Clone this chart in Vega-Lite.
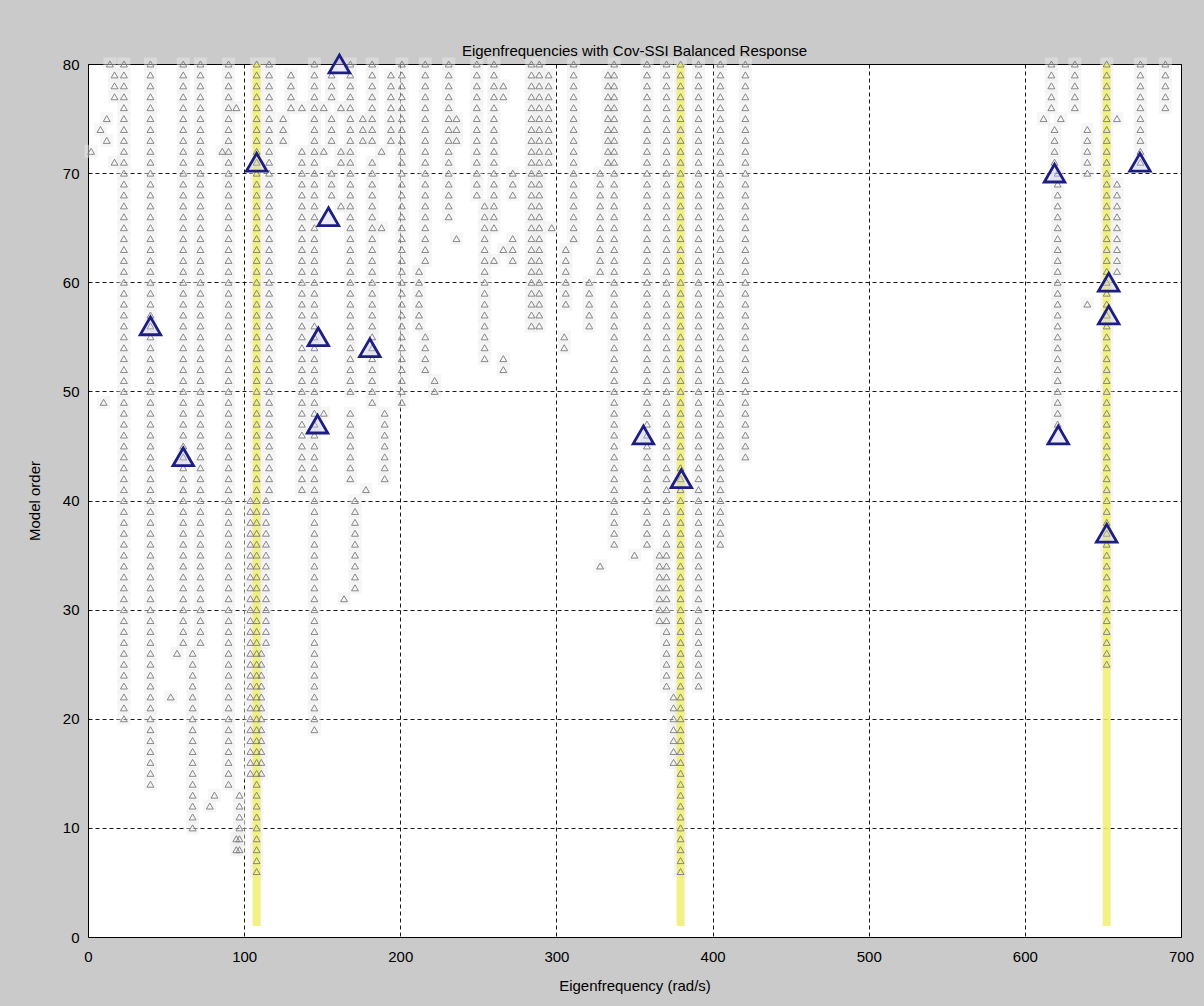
{
  "$schema": "https://vega.github.io/schema/vega-lite/v6.json",
  "autosize": "none",
  "width": 1093,
  "height": 873,
  "padding": {"left": 88, "top": 64, "right": 23, "bottom": 69},
  "background": "#cacaca",
  "view": {"fill": "white", "stroke": "black", "strokeWidth": 1},
  "title": {"text": "Eigenfrequencies with Cov-SSI Balanced Response", "font": "Liberation Sans", "fontSize": 15, "fontWeight": "normal", "color": "black", "offset": -11},
  "config": {
    "axis": {
      "labelFont": "Liberation Sans", "labelFontSize": 15, "labelColor": "black",
      "titleFont": "Liberation Sans", "titleFontSize": 15, "titleFontWeight": "normal", "titleColor": "black",
      "domain": false, "ticks": false, "labelFlush": false, "labelOverlap": false,
      "grid": true, "gridColor": "black", "gridDash": [4, 3], "gridWidth": 1, "gridOpacity": 0.9
    },
    "axisX": {"labelPadding": 12, "titlePadding": 14},
    "axisY": {"labelPadding": 9, "titlePadding": 20}
  },
  "datasets": {
    "gray": [
      {"f": 2, "o": [72]},
      {"f": 8, "o": [74]},
      {"f": 10, "o": [49]},
      {"f": 12, "o": [73, 75]},
      {"f": 14, "o": [80]},
      {"f": 17, "o": [71, 77, 78, 79]},
      {"f": 23, "o": [20,21,22,23,24,25,26,27,28,29,30,31,32,33,34,35,36,37,38,39,40,41,42,43,44,45,46,47,48,49,50,51,52,53,54,55,56,57,58,59,60,61,62,63,64,65,66,67,68,69,70,71,72,73,74,75,76,77,78,79,80]},
      {"f": 40, "o": [14,15,16,17,18,19,20,21,22,23,24,25,26,27,28,29,30,31,32,33,34,35,36,37,38,39,40,41,42,43,44,45,46,47,48,49,50,51,52,53,54,55,56,57,58,59,60,61,62,63,64,65,66,67,68,69,70,71,72,73,74,75,76,77,78,79,80]},
      {"f": 53, "o": [22]},
      {"f": 57, "o": [26]},
      {"f": 61, "o": [27,28,29,30,31,32,33,34,35,36,37,38,39,40,41,42,43,44,45,46,47,48,49,50,51,52,53,54,55,56,57,58,59,60,61,62,63,64,65,66,67,68,69,70,71,72,73,74,75,76,77,78,79,80]},
      {"f": 72, "o": [27,28,29,30,31,32,33,34,35,36,37,38,39,40,41,42,43,44,45,46,47,48,49,50,51,52,53,54,55,56,57,58,59,60,61,62,63,64,65,66,67,68,69,70,71,72,73,74,75,76,77,78,79,80]},
      {"f": 67, "o": [10,11,12,13,14,15,16,17,18,19,20,21,22,23,24,25,26]},
      {"f": 78, "o": [12]},
      {"f": 81, "o": [13]},
      {"f": 86, "o": [72]},
      {"f": 90, "o": [14,15,16,17,18,19,20,21,22,23,24,25,26,27,28,29,30,31,32,33,34,35,36,37,38,39,40,41,42,43,44,45,46,47,48,49,50,51,52,53,54,55,56,57,58,59,60,61,62,63,64,65,66,67,68,69,70,71,72,73,74,75,76,77,78,79,80]},
      {"f": 95, "o": [8, 9, 76]},
      {"f": 97, "o": [8,9,10,11,12,13]},
      {"f": 104, "o": [15,16,17,18,19,20,21,22,23,24,25,26,27,28,29,30,31,32,33,34,35,36,37,38,39,40]},
      {"f": 108, "o": [6,7,8,9,10,11,12,13,14,15,16,17,18,19,20,21,22,23,24,25,26,27,28,29,30,31,32,33,34,35,36,37,38,39,40,41,42,43,44,45,46,47,48,49,50,51,52,53,54,55,56,57,58,59,60,61,62,63,64,65,66,67,68,69,70,71,72,73,74,75,76,77,78,79,80]},
      {"f": 111, "o": [15,16,17,18,19,20,21,22,23,24,25,26]},
      {"f": 114, "o": [27,28,29,30,31,32,33,34,35,36,37,38,39,40]},
      {"f": 116, "o": [41,42,43,44,45,46,47,48,49,50,51,52,53,54,55,56,57,58,59,60,61,62,63,64,65,66,67,68,69,70,71,72,73,74,75,76,77,78,79,80]},
      {"f": 125, "o": [73, 74, 75]},
      {"f": 130, "o": [76, 77, 78, 79]},
      {"f": 137, "o": [41,42,43,44,45,46,47,48,49,50,51,52,53,54,55,56,57,58,59,60,61,62,63,64,65,66,67,68,69,70,71,72,76]},
      {"f": 145, "o": [19,20,21,22,23,24,25,26,27,28,29,30,31,32,33,34,35,36,37,38,39,40,41,42,43,44,45,46,47,48,49,50,51,52,53,54,55,56,57,58,59,60,61,62,63,64,65,66,67,68,69,70,71,72,73,74,75,76,77,78,79,80]},
      {"f": 151, "o": [48, 72, 76]},
      {"f": 156, "o": [68, 69, 70, 73, 74, 75, 77, 78, 79]},
      {"f": 162, "o": [67, 71, 72, 76]},
      {"f": 168, "o": [42,43,44,45,46,47,48,50,51,52,53,54,55,56,57,58,59,60,61,62,63,64,65,66,67,68,69,70,71,72,73,74,75,76,77,78,79,80]},
      {"f": 164, "o": [31]},
      {"f": 171, "o": [32,33,34,35,36,37,38,39,40]},
      {"f": 178, "o": [41]},
      {"f": 176, "o": [73, 74, 75]},
      {"f": 182, "o": [49,50,51,52,53,54,55,56,57,58,59,60,61,62,63,64,65,66,67,68,69,70,71,73,74,75,76,77,78,79,80]},
      {"f": 188, "o": [65, 72]},
      {"f": 190, "o": [42,43,44,45,46,47,48]},
      {"f": 194, "o": [73,74,75,76,77,78,79]},
      {"f": 201, "o": [49,50,51,52,53,54,55,56,57,58,59,60,61,62,63,64,65,66,67,68,69,70,71,72,73,74,75,76,77,78,79,80]},
      {"f": 212, "o": [56,57,58,59,60,61]},
      {"f": 216, "o": [52,53,54,55,62,63,64,65,66,67,68,69,70,71,72,73,74,75,76,77,78,79,80]},
      {"f": 222, "o": [50, 51]},
      {"f": 231, "o": [66,67,68,69,70,71,72,73,74,75,76,77,78,79,80]},
      {"f": 236, "o": [64, 73, 74, 75]},
      {"f": 249, "o": [68,69,70,71,72,73,74,75,76,77,78,79,80]},
      {"f": 254, "o": [53,54,55,56,57,58,59,60,61,62,63,64,65,66,67]},
      {"f": 260, "o": [62,65,66,67,68,69,70,71,72,73,74,75,76,77,78,79,80]},
      {"f": 266, "o": [52, 53, 63, 77, 78]},
      {"f": 272, "o": [62, 63, 64, 68, 69, 70]},
      {"f": 284, "o": [56,57,58,59,60,61,62,63,64,65,66,67,68,69,70,71,72,73,74,75,76,77,78,79,80]},
      {"f": 289, "o": [56,57,58,59,60,61,62,63,64,65,66,67,68,69,70,71,72,73,74,75,76,77,78,79,80]},
      {"f": 295, "o": [71,72,73,74,75,76,77,78,79]},
      {"f": 297, "o": [65]},
      {"f": 305, "o": [54, 55]},
      {"f": 306, "o": [58,59,60,61,62,63]},
      {"f": 311, "o": [64,65,66,67,68,69,70,71,72,73,74,75,76,77,78,79,80]},
      {"f": 321, "o": [56,57,58,59,60]},
      {"f": 328, "o": [34,61,62,63,64,65,66,67,68,69,70]},
      {"f": 333, "o": [71,72,73,74,75,76,77,78,79]},
      {"f": 337, "o": [36,37,38,39,40,41,42,43,44,45,46,47,48,49,50,51,52,53,54,55,56,57,58,59,60,61,62,63,64,65,66,67,68,69,70,71,72,73,74,75,76,77,78,79,80]},
      {"f": 350, "o": [35]},
      {"f": 358, "o": [36,37,38,39,40,41,42,43,44,45,46,47,48,49,50,51,52,53,54,55,56,57,58,59,60,61,62,63,64,65,66,67,68,69,70,71,72,73,74,75,76,77,78,79,80]},
      {"f": 366, "o": [29,30,31,32,33,34,35]},
      {"f": 370.5, "o": [23,24,25,26,27,28,29,30,31,32,33,34,35,36,37,38,39,40,41,42,43,44,45,46,47,48,49,50,51,52,53,54,55,56,57,58,59,60,61,62,63,64,65,66,67,68,69,70,71,72,73,74,75,76,77,78,79,80]},
      {"f": 375, "o": [16,17,18,19,20,21,22]},
      {"f": 379.5, "o": [6,7,8,9,10,11,12,13,14,15,16,17,18,19,20,21,22,23,24,25,26,27,28,29,30,31,32,33,34,35,36,37,38,39,40,41,42,43,44,45,46,47,48,49,50,51,52,53,54,55,56,57,58,59,60,61,62,63,64,65,66,67,68,69,70,71,72,73,74,75,76,77,78,79,80]},
      {"f": 391, "o": [23,24,25,26,27,28,29,30,31,32,33,34,35,36,37,38,39,40,41,42,43,44,45,46,47,48,49,50,51,52,53,54,55,56,57,58,59,60,61,62,63,64,65,66,67,68,69,70,71,72,73,74,75,76,77,78,79,80]},
      {"f": 405, "o": [36,37,38,39,40,41,42,43,44,45,46,47,48,49,50,51,52,53,54,55,56,57,58,59,60,61,62,63,64,65,66,67,68,69,70,71,72,73,74,75,76,77,78,79,80]},
      {"f": 421, "o": [44,45,46,47,48,49,50,51,52,53,54,55,56,57,58,59,60,61,62,63,64,65,66,67,68,69,70,71,72,73,74,75,76,77,78,79,80]},
      {"f": 612, "o": [75]},
      {"f": 617, "o": [76,77,78,79,80]},
      {"f": 619, "o": [71,72,73,74]},
      {"f": 621, "o": [47,48,49,50,51,52,53,54,55,56,57,58,59,60,61,62,63,64,65,66,67,68,69,70]},
      {"f": 623, "o": [75]},
      {"f": 632, "o": [76,77,78,79,80]},
      {"f": 640, "o": [58,70,71,72,73,74]},
      {"f": 652.4, "o": [25,26,27,28,29,30,31,32,33,34,35,36,37,38,39,40,41,42,43,44,45,46,47,48,49,50,51,52,53,54,55,56,57,58,59,60,61,62,63,64,65,66,67,68,69,70,71,72,73,74,75,76,77,78,79,80]},
      {"f": 659, "o": [61,62,63,64,65,66,67,68,69,75]},
      {"f": 674, "o": [71,72,73,74,75,76,77,78,79,80]},
      {"f": 690, "o": [76,77,78,79,80]}
    ],
    "blue": [
      {"f": 40, "o": 56}, {"f": 61, "o": 44}, {"f": 108, "o": 71}, {"f": 161, "o": 80},
      {"f": 154, "o": 66}, {"f": 147.5, "o": 55}, {"f": 180.5, "o": 54}, {"f": 147, "o": 47},
      {"f": 355.7, "o": 46}, {"f": 380, "o": 42}, {"f": 619, "o": 70}, {"f": 621.4, "o": 46},
      {"f": 653.7, "o": 60}, {"f": 653.7, "o": 57}, {"f": 652.4, "o": 37}, {"f": 673.7, "o": 71}
    ],
    "yellow": [
      {"f": 108, "o": 1, "g": 1}, {"f": 108, "o": 80, "g": 1},
      {"f": 379.5, "o": 1, "g": 2}, {"f": 379.5, "o": 80, "g": 2},
      {"f": 652.4, "o": 1, "g": 3}, {"f": 652.4, "o": 80, "g": 3}
    ]
  },
  "encoding": {
    "x": {"field": "f", "type": "quantitative", "scale": {"domain": [0, 700], "nice": false, "zero": false},
          "axis": {"title": "Eigenfrequency (rad/s)", "values": [0, 100, 200, 300, 400, 500, 600, 700]}},
    "y": {"field": "o", "type": "quantitative", "scale": {"domain": [0, 80], "nice": false},
          "axis": {"title": "Model order", "values": [0, 10, 20, 30, 40, 50, 60, 70, 80]}}
  },
  "layer": [
    {
      "data": {"name": "gray"},
      "transform": [{"flatten": ["o"]}],
      "mark": {"type": "point", "shape": "square", "size": 170, "filled": true, "fill": "#ececec", "strokeWidth": 0, "opacity": 0.45}
    },
    {
      "data": {"name": "yellow"},
      "mark": {"type": "line", "color": "#efef70", "strokeWidth": 8, "opacity": 0.85, "strokeCap": "butt"},
      "encoding": {"detail": {"field": "g", "type": "nominal"}}
    },
    {
      "data": {"name": "gray"},
      "transform": [{"flatten": ["o"]}],
      "mark": {"type": "point", "shape": "triangle-up", "size": 48, "filled": false, "stroke": "#7c7c7c", "strokeWidth": 0.9, "opacity": 1}
    },
    {
      "data": {"name": "blue"},
      "mark": {"type": "point", "shape": "triangle-up", "size": 420, "filled": true, "fill": "#c8c8ee", "fillOpacity": 0.35, "stroke": "#1e1e82", "strokeWidth": 2.8, "opacity": 1}
    }
  ]
}
